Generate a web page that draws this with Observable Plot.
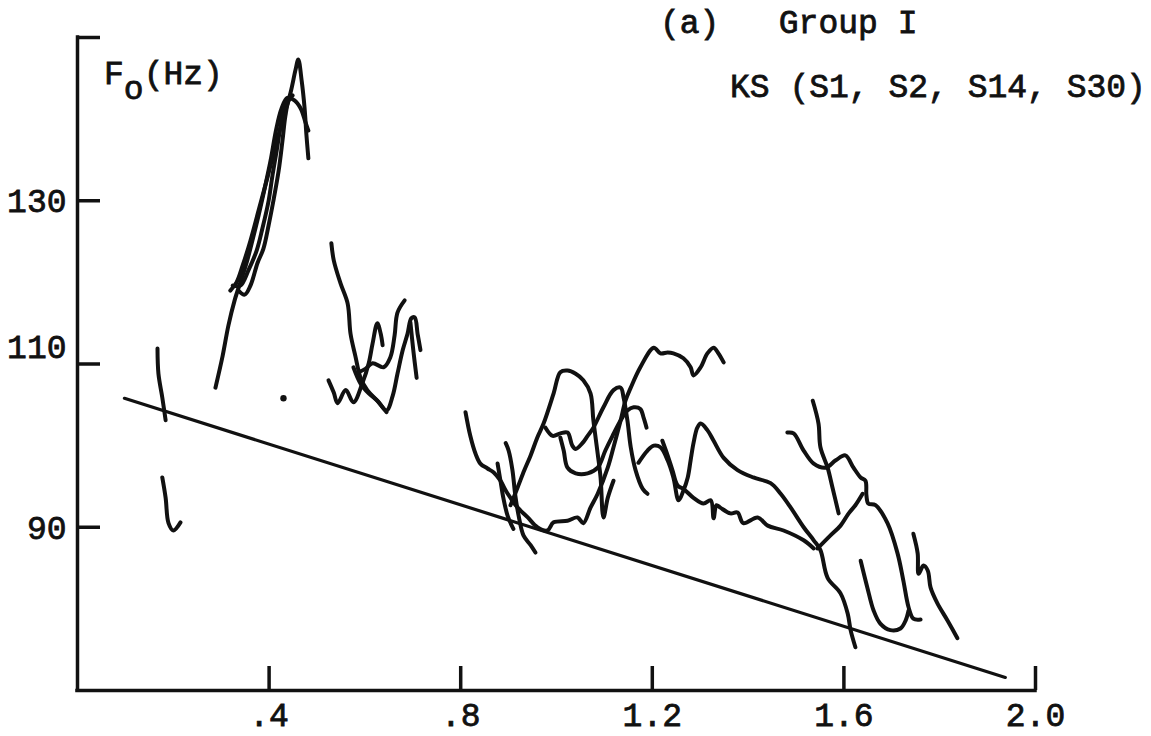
<!DOCTYPE html>
<html>
<head>
<meta charset="utf-8">
<script src="https://cdn.jsdelivr.net/npm/d3@7"></script>
<script src="https://cdn.jsdelivr.net/npm/@observablehq/plot@0.6"></script>
<style>
  body { margin: 0; background: #fff; }
  #wrap { position: relative; width: 1151px; height: 736px; background: #fff; }
  .lbl {
    position: absolute;
    font-family: "Liberation Mono", "DejaVu Sans Mono", monospace;
    font-weight: normal;
    font-size: 33px;
    line-height: 1;
    white-space: pre;
    color: #111;
    -webkit-text-stroke: 0.8px #111;
  }
  .sub { position: relative; top: 15px; }
  svg text { stroke: #111; stroke-width: 0.8px; }
</style>
</head>
<body>
<div id="wrap"></div>
<script>
// Axis ticks and their printed labels
const xTicks = [0.4, 0.8, 1.2, 1.6, 2.0];
const xTickLabels = [".4", ".8", "1.2", "1.6", "2.0"];
const yTicks = [90, 110, 130, 150];
const yLabelTicks = [90, 130];
const yLabelTicksRaised = [110];

// Text
const titleLine1 = "(a)   Group I";
const titleLine2 = "KS (S1, S2, S14, S30)";

// Declining reference line and an isolated point (time s, F0 Hz)
const trendLine = [[0.098, 105.8], [1.937, 71.6]];
const isolatedPoint = [[0.430, 105.8]];

// F0 contours, [time (s), F0 (Hz)]
const early1 = [[0.167,111.9],[0.169,108.8],[0.177,105.9],[0.184,103.1]];
const early2 = [[0.177,96.1],[0.184,93.6],[0.190,90.5],[0.200,89.6],[0.215,90.6]];

const peak1 = [[0.288,107.1],[0.303,111.0],[0.315,114.7],[0.328,117.8],[0.340,120.0],[0.353,122.4],[0.365,125.1],[0.378,128.2],[0.390,131.3],[0.403,134.9],[0.415,138.8],[0.426,141.3],[0.438,142.6],[0.453,142.3],[0.466,141.3],[0.476,139.6],[0.482,138.6]];
const peak2 = [[0.319,119.0],[0.332,120.0],[0.345,122.1],[0.361,125.1],[0.378,128.8],[0.395,132.5],[0.411,136.2],[0.428,139.8],[0.445,143.3],[0.455,146.0],[0.461,147.3],[0.468,144.7],[0.474,141.4],[0.478,138.0],[0.482,135.2]];
const peak3 = [[0.336,119.0],[0.349,118.5],[0.361,119.6],[0.376,122.4],[0.388,124.1],[0.399,127.0],[0.409,130.0],[0.420,133.7],[0.428,137.4],[0.434,140.4],[0.441,142.3],[0.449,142.9]];
const peak4 = [[0.324,119.6],[0.340,119.6],[0.357,121.5],[0.374,123.9],[0.386,126.6],[0.399,130.0],[0.407,133.1],[0.416,136.2],[0.424,139.2],[0.432,141.7],[0.445,142.8]];

const mid1 = [[0.530,124.8],[0.535,122.7],[0.549,119.9],[0.564,117.4],[0.570,113.7],[0.580,111.0],[0.591,108.3],[0.605,106.8],[0.626,105.5],[0.645,104.1]];
const mid2 = [[0.524,108.0],[0.535,106.5],[0.543,105.2],[0.560,106.8],[0.576,105.3],[0.595,107.7],[0.608,110.1],[0.616,112.5],[0.626,115.0],[0.633,113.7],[0.637,112.3]];
const mid3 = [[0.576,109.6],[0.591,107.6],[0.608,106.4],[0.626,105.5],[0.645,104.3],[0.658,106.1],[0.668,108.8],[0.679,111.7],[0.689,113.7],[0.697,115.6],[0.704,115.7],[0.710,113.7],[0.716,111.7]];
const mid4 = [[0.587,109.0],[0.601,109.4],[0.616,110.1],[0.639,109.6],[0.653,110.8],[0.662,113.5],[0.668,116.3],[0.683,117.8]];
const mid5 = [[0.695,115.1],[0.701,111.7],[0.708,108.3]];

const late1 = [[0.810,104.1],[0.820,101.2],[0.831,99.0],[0.841,97.8],[0.856,97.2],[0.869,96.7],[0.883,95.7],[0.894,94.5],[0.904,93.6],[0.919,92.4],[0.940,91.2],[0.960,90.0],[0.981,89.6],[0.994,90.6],[1.023,90.8],[1.044,91.2],[1.056,90.5],[1.071,92.4],[1.086,94.1],[1.107,97.3],[1.119,99.8],[1.134,103.1],[1.144,105.5],[1.155,107.1],[1.175,109.6],[1.203,112.0],[1.217,111.3],[1.232,111.4],[1.244,111.3],[1.265,110.7],[1.280,109.6],[1.286,108.6],[1.301,109.6],[1.315,111.3],[1.328,112.0],[1.338,111.3],[1.349,110.2]];
const late2 = [[0.894,100.3],[0.900,99.4],[0.908,97.0],[0.914,93.9],[0.921,91.4],[0.931,89.0],[0.946,87.8],[0.956,86.9]];
const late3 = [[0.877,97.8],[0.883,95.7],[0.889,93.6],[0.898,91.4],[0.910,89.8]];
const late4 = [[0.904,92.7],[0.919,94.9],[0.933,97.0],[0.946,98.8],[0.960,101.0],[0.973,102.7],[0.994,106.4],[1.008,109.0],[1.023,109.2],[1.040,108.8],[1.056,108.0],[1.071,106.4],[1.077,103.1],[1.086,99.0],[1.092,96.1],[1.098,91.2],[1.107,93.6],[1.119,95.7]];
const late5 = [[0.977,102.2],[0.992,101.2],[1.008,101.5],[1.023,101.6],[1.033,100.0],[1.040,99.6],[1.054,100.3],[1.065,101.2],[1.077,102.2],[1.098,104.7],[1.119,106.8],[1.134,107.1],[1.140,105.9],[1.148,103.1],[1.155,99.8],[1.165,97.0],[1.180,94.7],[1.190,94.1]];
const late6 = [[1.008,101.0],[1.015,99.4],[1.023,97.3],[1.040,96.6],[1.065,96.6],[1.086,97.3],[1.102,99.4],[1.117,101.2],[1.134,103.1],[1.148,104.3],[1.161,104.7],[1.175,104.5],[1.182,103.4],[1.188,102.2]];
const late7 = [[1.171,97.9],[1.190,99.4],[1.203,100.0],[1.217,99.8],[1.232,98.2],[1.244,96.1],[1.255,93.3],[1.265,94.5],[1.274,96.1],[1.280,98.2],[1.286,100.3],[1.294,102.2],[1.301,102.7],[1.315,101.9],[1.328,100.6],[1.349,98.5],[1.378,97.0],[1.411,96.1],[1.447,95.4],[1.468,94.1],[1.489,92.4],[1.516,90.0],[1.537,88.4],[1.551,87.2],[1.566,83.8],[1.593,81.9],[1.608,79.4],[1.614,77.4],[1.624,75.3]];
const late8 = [[1.221,100.6],[1.232,98.8],[1.242,97.0],[1.253,95.1],[1.265,94.7],[1.286,93.6],[1.307,92.9],[1.322,93.3],[1.328,91.1],[1.334,92.7],[1.342,92.4],[1.363,91.7],[1.378,91.8],[1.390,90.5],[1.420,91.2],[1.441,90.2],[1.474,89.6],[1.516,88.4],[1.537,87.4]];

const final1 = [[1.535,105.5],[1.547,102.7],[1.551,99.8],[1.566,97.3],[1.576,94.9],[1.589,91.7]];
const final2 = [[1.482,101.6],[1.495,101.5],[1.516,99.4],[1.537,97.8],[1.562,97.3],[1.583,98.2],[1.603,98.8],[1.620,97.3],[1.635,96.1],[1.645,95.7],[1.647,93.9],[1.651,92.9],[1.666,92.7],[1.691,90.5],[1.712,86.8],[1.724,83.5],[1.735,80.2],[1.745,78.8],[1.760,78.7]];
const final3 = [[1.545,87.4],[1.572,89.0],[1.593,90.2],[1.610,91.7],[1.624,92.7],[1.639,94.1]];
const final4 = [[1.635,85.9],[1.649,82.6],[1.662,79.8],[1.676,78.2],[1.697,77.4],[1.718,77.6],[1.729,78.6],[1.735,79.8]];
const final5 = [[1.745,89.2],[1.754,86.8],[1.756,84.3],[1.766,85.3],[1.775,84.7],[1.781,82.6],[1.795,80.7],[1.816,78.6],[1.837,76.4]];

const contourList = [early1, early2, peak1, peak2, peak3, peak4, mid1, mid2, mid3, mid4, mid5,
  late1, late2, late3, late4, late5, late6, late7, late8, final1, final2, final3, final4, final5];

const contourRows = contourList.flatMap((pts, id) => pts.map(([t, f]) => ({id, t, f})));

const ink = "#111";
const W = 1151, H = 736;
const mL = 77, mR = 116, mT = 37, mB = 46;
const innerW = W - mL - mR, innerH = H - mT - mB;
const tickLen = 23;
const font = '"Liberation Mono", "DejaVu Sans Mono", monospace';

const chart = Plot.plot({
  width: W,
  height: H,
  marginLeft: mL, marginRight: mR, marginTop: mT, marginBottom: mB,
  x: {domain: [0, 2.0]},
  y: {domain: [70, 150]},
  style: {background: "#fff", color: ink, fontFamily: font},
  marks: [
    // frame: left and bottom axis lines
    Plot.ruleX([0], {stroke: ink, strokeWidth: 3.5, strokeLinecap: "square"}),
    Plot.ruleY([70], {stroke: ink, strokeWidth: 3.5, strokeLinecap: "square"}),
    // inward tick marks
    Plot.tickY(yTicks, {y: d => d, stroke: ink, strokeWidth: 3.5, insetRight: innerW - tickLen}),
    Plot.tickX(xTicks, {x: d => d, stroke: ink, strokeWidth: 3.5, insetTop: innerH - tickLen - 1}),
    // tick labels
    Plot.axisX(xTicks, {tickSize: 0, tickPadding: 12, fontSize: 33, label: null,
      tickFormat: (d) => xTickLabels[xTicks.indexOf(d)]}),
    Plot.axisY(yLabelTicks, {tickSize: 0, tickPadding: 11, fontSize: 33, label: null, dy: 1,
      tickFormat: d => String(d)}),
    Plot.axisY(yLabelTicksRaised, {tickSize: 0, tickPadding: 11, fontSize: 33, label: null, dy: -17,
      tickFormat: d => String(d)}),
    // declining reference line
    Plot.line(trendLine, {x: d => d[0], y: d => d[1], stroke: ink, strokeWidth: 3.2}),
    // F0 contours
    Plot.line(contourRows, {x: "t", y: "f", z: "id", stroke: ink, strokeWidth: 4,
      strokeLinejoin: "round", strokeLinecap: "round", curve: "catmull-rom"}),
    Plot.dot(isolatedPoint, {x: d => d[0], y: d => d[1], r: 3.2, fill: ink, stroke: "none"})
  ]
});

const wrap = document.getElementById("wrap");
wrap.appendChild(chart);

function addLabel(html, left, top) {
  const el = document.createElement("div");
  el.className = "lbl";
  el.style.left = left + "px";
  el.style.top = top + "px";
  el.innerHTML = html;
  wrap.appendChild(el);
}
addLabel(titleLine1, 660, 8);
addLabel(titleLine2, 730, 72);
addLabel('F<span class="sub">o</span>(Hz)', 104, 59);
</script>
</body>
</html>
